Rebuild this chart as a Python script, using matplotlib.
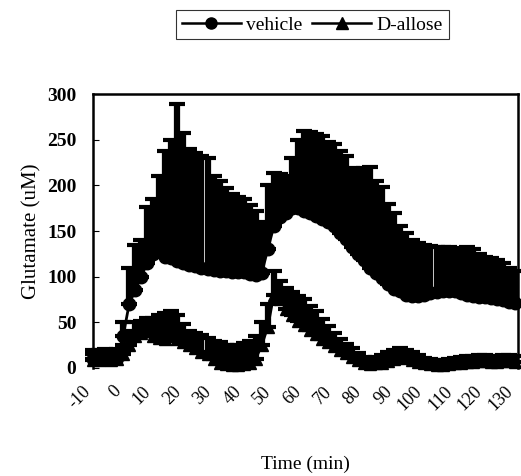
import numpy as np
import matplotlib.pyplot as plt
import matplotlib.transforms as mtransforms
from matplotlib.lines import Line2D

plt.rcParams['font.family'] = ['Liberation Serif', 'DejaVu Serif']

# time points (min), sampled every 2 min
time = np.arange(-10, 131, 2)

vehicle = [10, 10, 11, 10, 11, 35, 70, 85, 100, 115, 125, 128, 122, 120, 117,
           115, 113, 112, 110, 108, 107, 106, 106, 105, 105, 105, 103, 102, 104,
           130, 155, 165, 170, 175, 175, 172, 170, 166, 163, 160, 155, 148, 141,
           133, 125, 118, 110, 104, 98, 92, 86, 84, 80, 79, 79, 80, 82, 83, 84,
           84, 84, 82, 80, 79, 78, 78, 77, 76, 74, 72, 71]
vehicle_sem = [10, 10, 10, 10, 10, 15, 40, 50, 40, 61, 60, 82, 116, 130, 172,
               142, 127, 123, 122, 122, 103, 99, 91, 85, 82, 80, 75, 70, 56,
               70, 59, 47, 40, 55, 75, 88, 88, 90, 91, 88, 90, 90, 91,
               86, 90, 101, 110, 101, 100, 88, 84, 71, 68, 61, 58, 55, 52, 50, 48,
               48, 47, 48, 52, 51, 47, 44, 43, 42, 41, 38, 35]

allose = [9, 9, 10, 9, 10, 15, 25, 35, 38, 40, 35, 33, 32, 35, 32,
          28, 25, 22, 18, 15, 10, 6, 4, 3, 3, 4, 6, 10, 25,
          45, 80, 75, 65, 58, 52, 47, 42, 37, 32, 28, 24, 20, 16,
          12, 9, 6, 4, 5, 6, 8, 10, 12, 11, 9, 7, 5, 4, 3, 3,
          4, 5, 6, 7, 7, 8, 8, 7, 7, 8, 8, 7]
allose_sem = [6, 6, 6, 6, 6, 10, 15, 15, 14, 15, 20, 25, 28, 27, 26,
              20, 15, 16, 18, 18, 20, 22, 21, 22, 22, 23, 24, 25, 25,
              25, 26, 20, 23, 25, 27, 28, 26, 25, 22, 18, 14, 12, 10,
              10, 7, 6, 6, 7, 8, 9, 10, 10, 9, 8, 7, 6, 6, 6, 6,
              6, 6, 6, 6, 6, 6, 6, 6, 6, 6, 6, 6]

xticks = list(range(-10, 131, 10))

fig = plt.figure(figsize=(5.21, 4.76), dpi=100)
ax = fig.add_axes([0.1785, 0.2269, 0.8155, 0.5756])

zeros = np.zeros(len(time))
ax.errorbar(time, vehicle, yerr=[zeros, vehicle_sem], fmt='-o', color='black',
            ms=9, lw=2, elinewidth=4.5, capsize=6, capthick=3,
            clip_on=False)
ax.errorbar(time, allose, yerr=[zeros, allose_sem], fmt='-^', color='black',
            ms=9, lw=2, elinewidth=4.5, capsize=6, capthick=3,
            clip_on=False)

ax.set_xlim(-10, 131)
ax.set_ylim(0, 300)
ax.set_yticks(range(0, 301, 50))
ax.set_xticks(xticks)
ax.set_xticklabels([])
ax.tick_params(axis='x', length=0)
# rotated time labels, nudged left/down like the original
off = mtransforms.ScaledTranslation(-11 / 100, -15 / 100, fig.dpi_scale_trans)
for t in xticks:
    ax.text(t, 0, str(t), transform=ax.get_xaxis_transform() + off,
            rotation=45, ha='right', va='top', rotation_mode='anchor',
            fontsize=13)
ax.tick_params(axis='y', direction='in', length=4, labelsize=14, pad=12)
for lab in ax.get_yticklabels():
    lab.set_fontweight('bold')
for sp in ax.spines.values():
    sp.set_linewidth(1.8)
ax.spines['bottom'].set_visible(False)

ax.set_ylabel('Glutamate (uM)', fontsize=15, labelpad=4)
ax.set_xlabel('Time (min)', fontsize=14, va='top')
ax.xaxis.set_label_coords(0.5, -0.32)

handles = [Line2D([], [], color='black', marker='o', ms=8, lw=1.8),
           Line2D([], [], color='black', marker='^', ms=9, lw=1.8)]
leg = fig.legend(handles, ['vehicle', 'D-allose'], loc='center',
                 bbox_to_anchor=(0.6, 0.948), ncol=2, fontsize=14,
                 frameon=True, fancybox=False, handlelength=3.0,
                 columnspacing=0.5, handletextpad=0.3, borderpad=0.3)
leg.get_frame().set_edgecolor('black')
leg.get_frame().set_linewidth(0.8)

fig.savefig('out.png', dpi=100)
